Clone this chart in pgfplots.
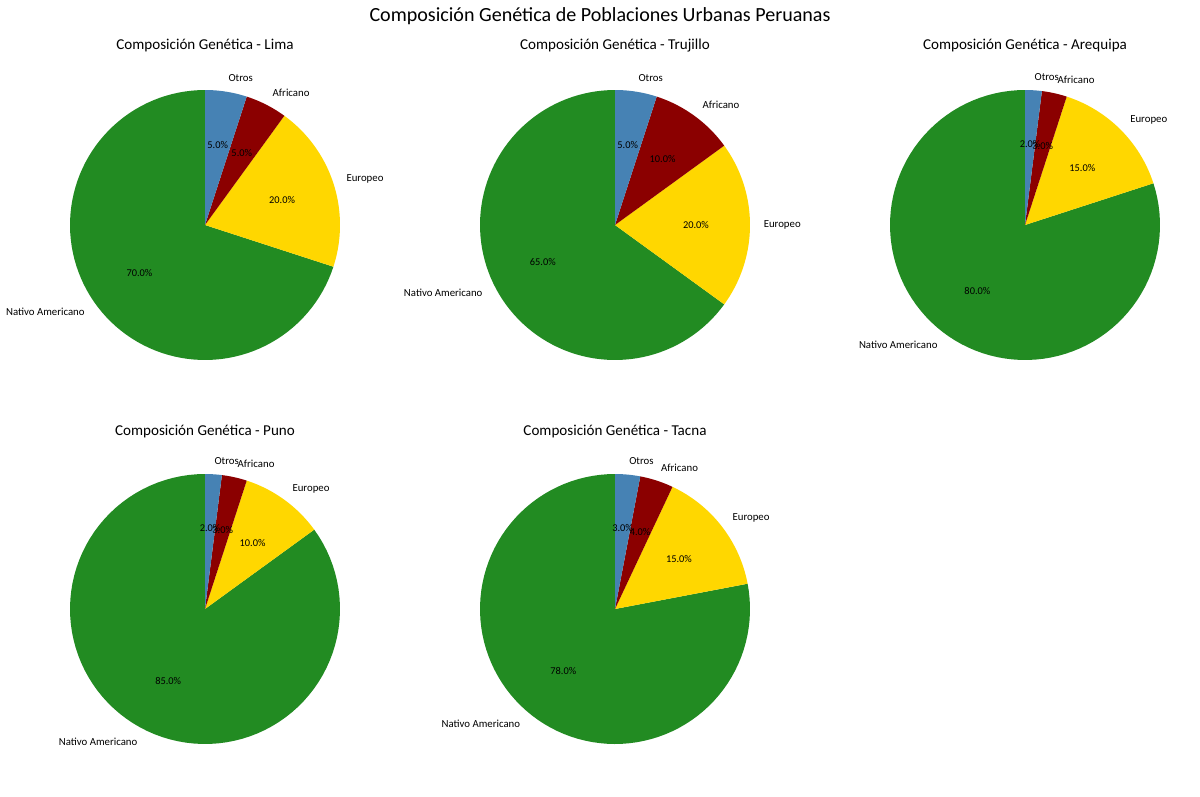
\documentclass[border=0pt]{standalone}
\usepackage{fontspec}
\setmainfont{Carlito}
\usepackage{pgfplots}
\pgfplotsset{compat=1.18}

\definecolor{cN}{HTML}{228B22}
\definecolor{cE}{HTML}{FFD700}
\definecolor{cA}{HTML}{8B0000}
\definecolor{cO}{HTML}{4682B4}

% #1 start angle, #2 span angle, #3 colour
\newcommand{\wedgeplot}[3]{%
  \addplot[fill=#3, draw=none, domain={#1}:{#1+#2}, samples=90, variable=\t]
    ({cos(\t)},{sin(\t)}) -- (0,0) -- cycle;
}
% #1 start, #2 span, #3 name, #4 percent, #5 anchor
\newcommand{\slicelabel}[5]{%
  \node[anchor=#5, inner sep=0pt, font=\fontsize{7.8}{9}\selectfont]
    at (axis cs:{1.1*cos(#1+(#2)/2)},{1.1*sin(#1+(#2)/2)}) {#3};
  \node[inner sep=0pt, font=\fontsize{7.5}{9}\selectfont]
    at (axis cs:{0.6*cos(#1+(#2)/2)},{0.6*sin(#1+(#2)/2)}) {#4};
}
% values: Nativo Americano, Europeo, Africano, Otros
\newcommand{\piechart}[4]{%
  \wedgeplot{90}{3.6*#1}{cN}
  \wedgeplot{90+3.6*#1}{3.6*#2}{cE}
  \wedgeplot{90+3.6*(#1+#2)}{3.6*#3}{cA}
  \wedgeplot{90+3.6*(#1+#2+#3)}{3.6*#4}{cO}
  \slicelabel{90}{3.6*#1}{Nativo Americano}{#1.0\%}{east}
  \slicelabel{90+3.6*#1}{3.6*#2}{Europeo}{#2.0\%}{west}
  \slicelabel{90+3.6*(#1+#2)}{3.6*#3}{Africano}{#3.0\%}{west}
  \slicelabel{90+3.6*(#1+#2+#3)}{3.6*#4}{Otros}{#4.0\%}{west}
}

\pgfplotsset{pieax/.style={hide axis, scale only axis, width=194.4bp, height=194.4bp,
  xmin=-1, xmax=1, ymin=-1, ymax=1, clip=false, anchor=center}}

\begin{document}
\begin{tikzpicture}
\useasboundingbox (0,0) rectangle (864bp,-573.84bp);
\node[font=\fontsize{14.5}{17}\selectfont] at (432bp,-11.52bp) {Composición Genética de Poblaciones Urbanas Peruanas};
\node[font=\fontsize{10.9}{13}\selectfont] at (147.6bp,-33.12bp) {Composición Genética - Lima};
\node[font=\fontsize{10.9}{13}\selectfont] at (442.8bp,-33.12bp) {Composición Genética - Trujillo};
\node[font=\fontsize{10.9}{13}\selectfont] at (738bp,-33.12bp) {Composición Genética - Arequipa};
\node[font=\fontsize{10.9}{13}\selectfont] at (147.6bp,-310.32bp) {Composición Genética - Puno};
\node[font=\fontsize{10.9}{13}\selectfont] at (442.8bp,-310.32bp) {Composición Genética - Tacna};

\begin{axis}[pieax, at={(147.6bp,-162bp)}]
  \piechart{70}{20}{5}{5}
\end{axis}
\begin{axis}[pieax, at={(442.8bp,-162bp)}]
  \piechart{65}{20}{10}{5}
\end{axis}
\begin{axis}[pieax, at={(738bp,-162bp)}]
  \piechart{80}{15}{3}{2}
\end{axis}
\begin{axis}[pieax, at={(147.6bp,-438.48bp)}]
  \piechart{85}{10}{3}{2}
\end{axis}
\begin{axis}[pieax, at={(442.8bp,-438.48bp)}]
  \piechart{78}{15}{4}{3}
\end{axis}
\end{tikzpicture}
\end{document}
